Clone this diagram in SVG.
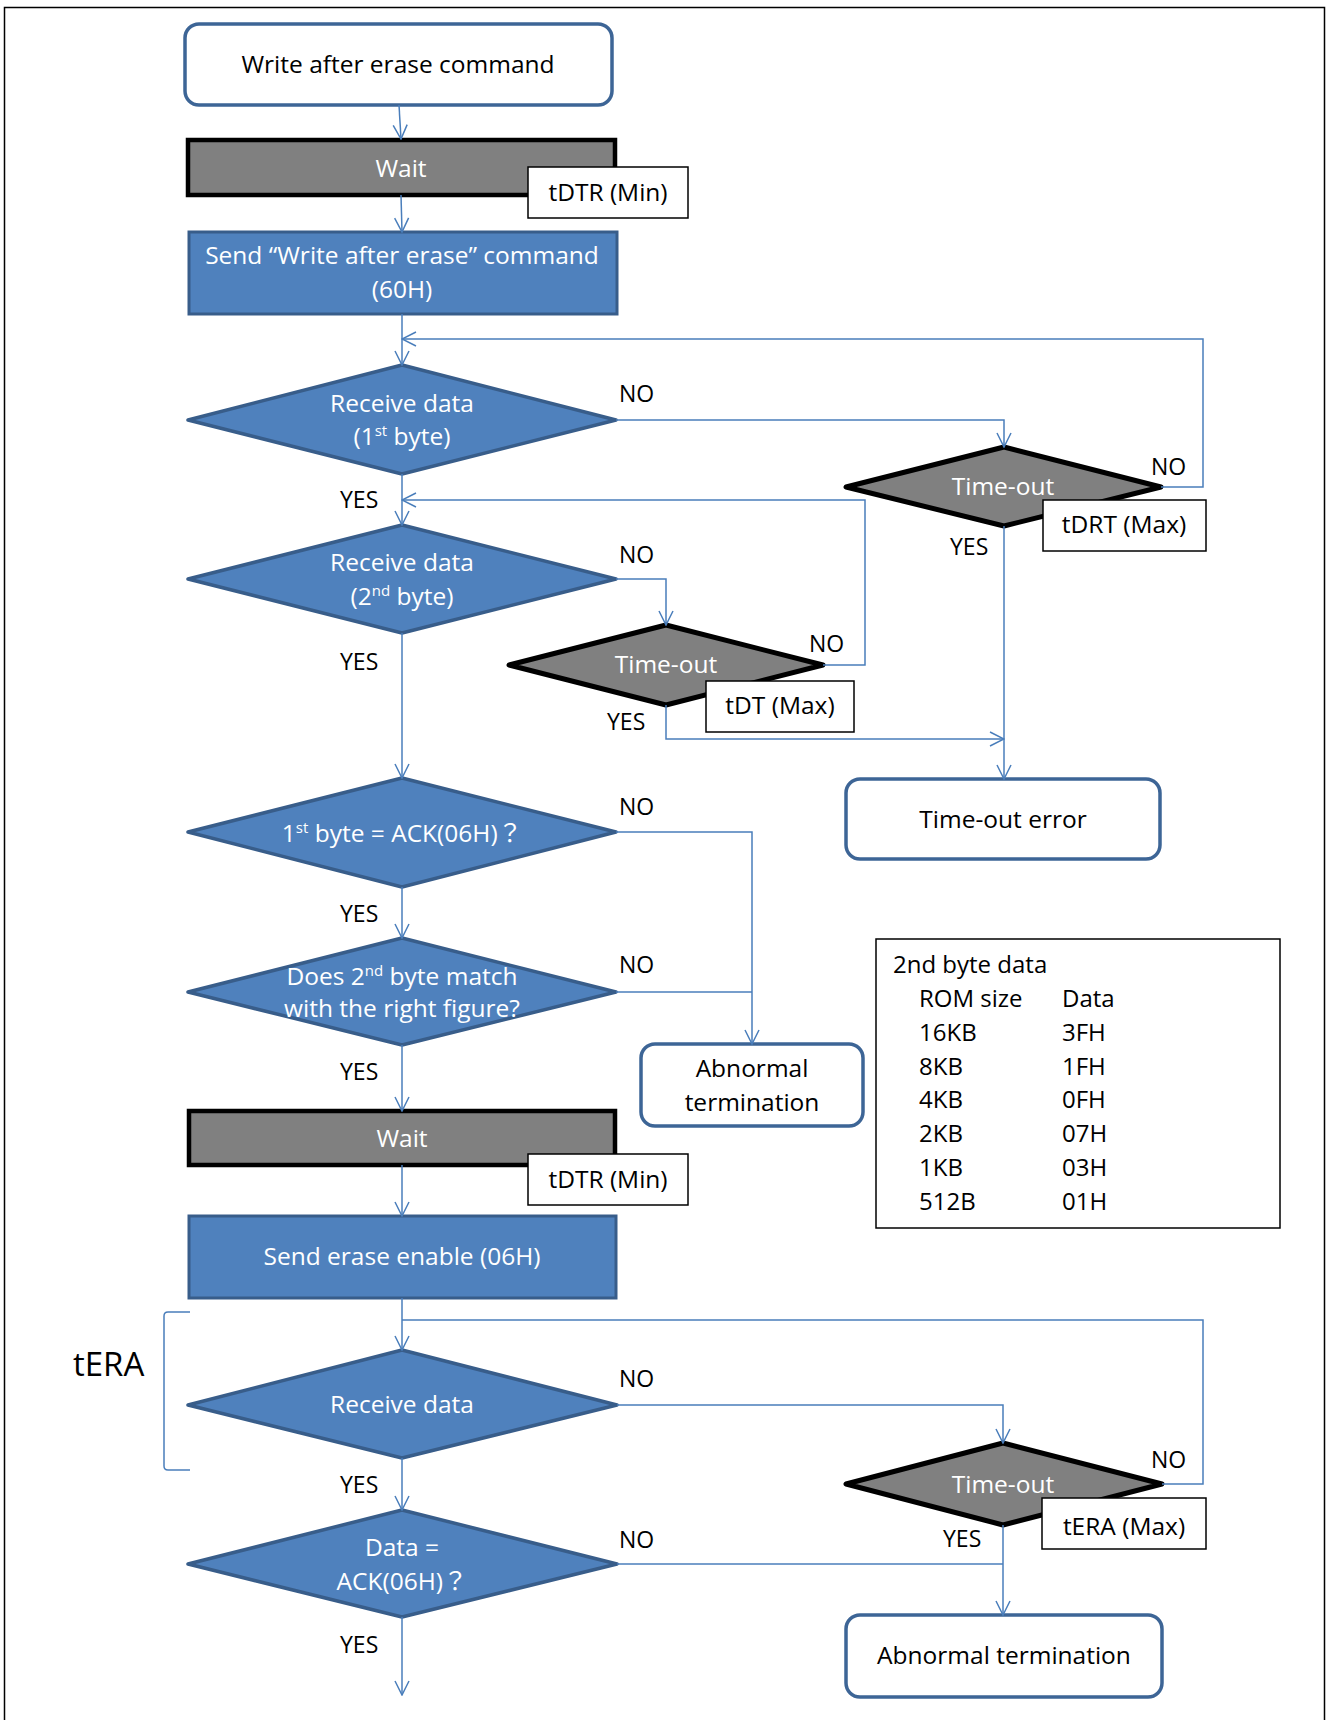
<svg xmlns="http://www.w3.org/2000/svg" width="1326" height="1720" viewBox="0 0 1326 1720">
<style>
text{font-family:"Open Sans","Noto Sans","Noto Sans CJK JP",sans-serif;font-size:24.5px;fill:#000;}
.c{text-anchor:middle;}
.w{fill:#fff;}
.term{fill:#fff;stroke:#3d6596;stroke-width:3.5;}
.proc{fill:#4f81bd;stroke:#385d8a;stroke-width:3;}
.wait{fill:#808080;stroke:#000;stroke-width:4.5;}
.dec{fill:#4f81bd;stroke:#385d8a;stroke-width:3.5;stroke-linejoin:round;}
.to{fill:#808080;stroke:#000;stroke-width:5;stroke-linejoin:round;}
.note{fill:#fff;stroke:#000;stroke-width:1.5;}
.lbl{font-size:23px;}
.tbl{font-size:24px;}
.sup{font-size:15px;}
#connectors path{fill:none;stroke:#4a7ebb;stroke-width:1.5;}
</style>
<defs>
<marker id="arr" viewBox="0 0 16 16" refX="15" refY="8" markerWidth="16" markerHeight="16" markerUnits="userSpaceOnUse" orient="auto">
<path d="M1,1 L15,8 L1,15" fill="none" stroke="#4a7ebb" stroke-width="1.5"/>
</marker>
</defs>
<rect x="0" y="0" width="1326" height="1720" fill="#fff"/>
<path d="M4.5,1722 L4.5,7.5 L1324.5,7.5 L1324.5,1722" fill="none" stroke="#000" stroke-width="1.5"/>

<g id="start">
<rect class="term" x="185" y="24" width="427" height="81" rx="14"/>
<text class="c" x="398" y="73">Write after erase command</text>
</g>
<g id="wait1">
<rect class="wait" x="188" y="140" width="427" height="55"/>
<text class="c w" x="401" y="177">Wait</text>
</g>
<g id="tdtr1">
<rect class="note" x="528" y="167" width="160" height="51"/>
<text class="c" x="608" y="201">tDTR (Min)</text>
</g>
<g id="send60">
<rect class="proc" x="189" y="232" width="428" height="82"/>
<text class="c w" x="402" y="264">Send “Write after erase” command</text>
<text class="c w" x="402" y="298">(60H)</text>
</g>
<g id="recv1">
<polygon class="dec" points="402,365 616,420 402,474 188,420"/>
<text class="c w" x="402" y="412">Receive data</text>
<text class="c w" x="402" y="445">(1<tspan class="sup" dy="-9">st</tspan><tspan dy="9"> byte)</tspan></text>
</g>
<g id="timeout1">
<polygon class="to" points="1004,447 1161,487 1004,526 846,487"/>
<text class="c w" x="1003" y="495">Time-out</text>
</g>
<g id="tdrt">
<rect class="note" x="1043" y="500" width="163" height="51"/>
<text class="c" x="1124" y="533">tDRT (Max)</text>
</g>
<g id="recv2">
<polygon class="dec" points="402,525 616,579 402,633 188,579"/>
<text class="c w" x="402" y="571">Receive data</text>
<text class="c w" x="402" y="605">(2<tspan class="sup" dy="-9">nd</tspan><tspan dy="9"> byte)</tspan></text>
</g>
<g id="timeout2">
<polygon class="to" points="666,625 823,665 666,705 509,665"/>
<text class="c w" x="666" y="673">Time-out</text>
</g>
<g id="tdt">
<rect class="note" x="706" y="681" width="148" height="51"/>
<text class="c" x="780" y="714">tDT (Max)</text>
</g>
<g id="timeouterror">
<rect class="term" x="846" y="779" width="314" height="80" rx="14"/>
<text class="c" x="1003" y="828">Time-out error</text>
</g>
<g id="ack1">
<polygon class="dec" points="402,778 616,832 402,887 188,832"/>
<text class="c w" x="402" y="842">1<tspan class="sup" dy="-9">st</tspan><tspan dy="9"> byte = ACK(06H)？</tspan></text>
</g>
<g id="match">
<polygon class="dec" points="402,938 616,992 402,1045 188,992"/>
<text class="c w" x="402" y="985">Does 2<tspan class="sup" dy="-9">nd</tspan><tspan dy="9"> byte match</tspan></text>
<text class="c w" x="402" y="1017">with the right figure?</text>
</g>
<g id="abnormal1">
<rect class="term" x="641" y="1044" width="222" height="82" rx="14"/>
<text class="c" x="752" y="1077">Abnormal</text>
<text class="c" x="752" y="1111">termination</text>
</g>
<g id="table">
<rect class="note" x="876" y="939" width="404" height="289"/>
<text class="tbl" x="893" y="973">2nd byte data</text>
<text class="tbl" x="919" y="1007">ROM size</text><text class="tbl" x="1062" y="1007">Data</text>
<text class="tbl" x="919" y="1041">16KB</text><text class="tbl" x="1062" y="1041">3FH</text>
<text class="tbl" x="919" y="1075">8KB</text><text class="tbl" x="1062" y="1075">1FH</text>
<text class="tbl" x="919" y="1108">4KB</text><text class="tbl" x="1062" y="1108">0FH</text>
<text class="tbl" x="919" y="1142">2KB</text><text class="tbl" x="1062" y="1142">07H</text>
<text class="tbl" x="919" y="1176">1KB</text><text class="tbl" x="1062" y="1176">03H</text>
<text class="tbl" x="919" y="1210">512B</text><text class="tbl" x="1062" y="1210">01H</text>
</g>
<g id="wait2">
<rect class="wait" x="189" y="1111" width="426" height="54"/>
<text class="c w" x="402" y="1147">Wait</text>
</g>
<g id="tdtr2">
<rect class="note" x="528" y="1154" width="160" height="51"/>
<text class="c" x="608" y="1188">tDTR (Min)</text>
</g>
<g id="sendenable">
<rect class="proc" x="189" y="1216" width="427" height="82"/>
<text class="c w" x="402" y="1265">Send erase enable (06H)</text>
</g>
<g id="recv3">
<polygon class="dec" points="402,1350 617,1405 402,1458 188,1405"/>
<text class="c w" x="402" y="1413">Receive data</text>
</g>
<g id="timeout3">
<polygon class="to" points="1003,1443 1162,1484 1003,1525 846,1484"/>
<text class="c w" x="1003" y="1493">Time-out</text>
</g>
<g id="tera">
<rect class="note" x="1042" y="1498" width="164" height="51"/>
<text class="c" x="1124" y="1535">tERA (Max)</text>
</g>
<g id="ack2">
<polygon class="dec" points="402,1510 617,1564 402,1617 188,1564"/>
<text class="c w" x="402" y="1556">Data =</text>
<text class="c w" x="402" y="1590">ACK(06H)？</text>
</g>
<g id="abnormal2">
<rect class="term" x="846" y="1615" width="316" height="82" rx="14"/>
<text class="c" x="1004" y="1664">Abnormal termination</text>
</g>
<g id="teraBracket">
<path d="M190,1312 L168,1312 Q164,1312 164,1316 L164,1466 Q164,1470 168,1470 L190,1470" fill="none" stroke="#4a7ebb" stroke-width="1.5"/>
<text x="73" y="1376" style="font-size:33px">tERA</text>
</g>

<g id="connectors">
<path d="M399,105 L401,139" marker-end="url(#arr)"/>
<path d="M401,195 L402,232" marker-end="url(#arr)"/>
<path d="M402,314 L402,365" marker-end="url(#arr)"/>
<path d="M1161,487 L1203,487 L1203,339 L402,339" marker-end="url(#arr)"/>
<path d="M616,420 L1004,420 L1004,447" marker-end="url(#arr)"/>
<path d="M402,474 L402,525" marker-end="url(#arr)"/>
<path d="M823,665 L865,665 L865,500 L402,500" marker-end="url(#arr)"/>
<path d="M616,579 L666,579 L666,625" marker-end="url(#arr)"/>
<path d="M666,705 L666,739 L1004,739" marker-end="url(#arr)"/>
<path d="M1004,526 L1004,779" marker-end="url(#arr)"/>
<path d="M402,633 L402,778" marker-end="url(#arr)"/>
<path d="M616,832 L752,832 L752,1044" marker-end="url(#arr)"/>
<path d="M402,887 L402,938" marker-end="url(#arr)"/>
<path d="M616,992 L752,992"/>
<path d="M402,1045 L402,1111" marker-end="url(#arr)"/>
<path d="M402,1165 L402,1216" marker-end="url(#arr)"/>
<path d="M402,1298 L402,1350" marker-end="url(#arr)"/>
<path d="M1162,1484 L1203,1484 L1203,1320 L402,1320"/>
<path d="M617,1405 L1003,1405 L1003,1443" marker-end="url(#arr)"/>
<path d="M402,1458 L402,1510" marker-end="url(#arr)"/>
<path d="M617,1564 L1003,1564"/>
<path d="M1003,1525 L1003,1615" marker-end="url(#arr)"/>
<path d="M402,1617 L402,1695" marker-end="url(#arr)"/>
</g>

<g id="labels">
<text class="lbl" x="619" y="402">NO</text>
<text class="lbl" x="340" y="508">YES</text>
<text class="lbl" x="1151" y="475">NO</text>
<text class="lbl" x="950" y="555">YES</text>
<text class="lbl" x="619" y="563">NO</text>
<text class="lbl" x="340" y="670">YES</text>
<text class="lbl" x="809" y="652">NO</text>
<text class="lbl" x="607" y="730">YES</text>
<text class="lbl" x="619" y="815">NO</text>
<text class="lbl" x="340" y="922">YES</text>
<text class="lbl" x="619" y="973">NO</text>
<text class="lbl" x="340" y="1080">YES</text>
<text class="lbl" x="619" y="1387">NO</text>
<text class="lbl" x="1151" y="1468">NO</text>
<text class="lbl" x="340" y="1493">YES</text>
<text class="lbl" x="943" y="1547">YES</text>
<text class="lbl" x="619" y="1548">NO</text>
<text class="lbl" x="340" y="1653">YES</text>
</g>
</svg>
